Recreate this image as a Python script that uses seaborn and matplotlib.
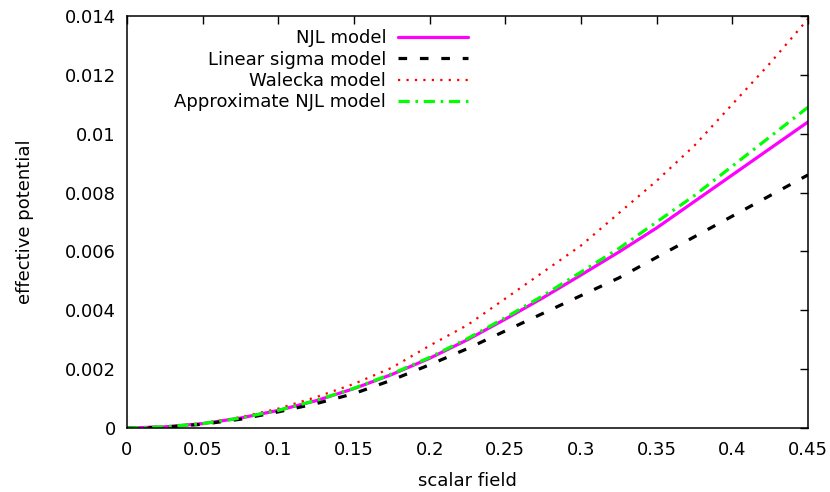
import numpy as np
import pandas as pd
import seaborn as sns
import matplotlib
matplotlib.use("Agg")
import matplotlib.pyplot as plt

# values
x = [0, 0.025, 0.05, 0.075, 0.1, 0.125, 0.15, 0.175, 0.2, 0.225,
     0.25, 0.275, 0.3, 0.325, 0.35, 0.375, 0.4, 0.425, 0.45]
njl = [0, 0.00004, 0.00015, 0.00034, 0.0006, 0.00093, 0.00134, 0.00182, 0.00237, 0.003,
       0.0037, 0.00443, 0.0052, 0.00598, 0.0068, 0.0077, 0.0086, 0.0095, 0.0104]
linear_sigma = [0, 0.00003, 0.00013, 0.0003, 0.00055, 0.00083, 0.00117, 0.00163, 0.00215, 0.0027,
                0.0033, 0.0039, 0.0045, 0.0051, 0.0058, 0.0065, 0.0072, 0.0079, 0.0086]
walecka = [0, 0.00004, 0.00016, 0.00037, 0.00066, 0.00105, 0.0015, 0.00205, 0.0028, 0.0035,
           0.0044, 0.0053, 0.0062, 0.0073, 0.0084, 0.0096, 0.011, 0.0124, 0.0139]
approx_njl = [0, 0.00004, 0.00015, 0.00034, 0.0006, 0.00094, 0.00135, 0.00184, 0.0024, 0.00304,
              0.00375, 0.0045, 0.0053, 0.0061, 0.007, 0.0079, 0.0089, 0.0099, 0.0109]

x_ticks = [0, 0.05, 0.1, 0.15, 0.2, 0.25, 0.3, 0.35, 0.4, 0.45]
x_tick_labels = ["0", "0.05", "0.1", "0.15", "0.2", "0.25", "0.3", "0.35", "0.4", "0.45"]
y_ticks = [0, 0.002, 0.004, 0.006, 0.008, 0.01, 0.012, 0.014]
y_tick_labels = ["0", "0.002", "0.004", "0.006", "0.008", "0.01", "0.012", "0.014"]

sns.set_theme(style="white")
plt.rcParams['font.family'] = ['DejaVu Sans']
plt.rcParams['text.color'] = 'black'
plt.rcParams['axes.labelcolor'] = 'black'

fig = plt.figure(figsize=(8.3, 4.92), dpi=100)
ax = fig.add_axes([0.153, 0.130, 0.8205, 0.8375])

sns.lineplot(x=x, y=njl, ax=ax, color="#ff00ff", lw=2.3, label="NJL model")
sns.lineplot(x=x, y=linear_sigma, ax=ax, color="black", lw=2.3,
             linestyle=(0, (2.7, 4)), label="Linear sigma model")
sns.lineplot(x=x, y=walecka, ax=ax, color="#ff0000", lw=1.6,
             linestyle=(0, (1, 2.8)), label="Walecka model")
sns.lineplot(x=x, y=approx_njl, ax=ax, color="#00ff00", lw=2.3,
             linestyle=(0, (3.5, 1.8, 0.8, 1.8)), label="Approximate NJL model")

ax.set_xlim(0, 0.45)
ax.set_ylim(0, 0.014)
ax.set_xticks(x_ticks)
ax.set_xticklabels(x_tick_labels)
ax.set_yticks(y_ticks)
ax.set_yticklabels(y_tick_labels)
ax.tick_params(direction="in", length=6, width=1, top=True, right=True,
               labelsize=13, colors="black")
ax.tick_params(axis="x", pad=9)
ax.tick_params(axis="y", pad=8)
for s in ax.spines.values():
    s.set_color("black")
    s.set_linewidth(1.1)

ax.set_xlabel("scalar field", fontsize=13, labelpad=10)
ax.set_ylabel("effective potential", fontsize=13, labelpad=22)

leg = ax.legend(loc="upper right", bbox_to_anchor=(0.52, 0.998), frameon=False,
                markerfirst=False, fontsize=13, handlelength=3.9,
                handletextpad=0.65, labelspacing=0.18, borderaxespad=0.3)
for t in leg.get_texts():
    t.set_color("black")

fig.savefig("out.png", dpi=100)
